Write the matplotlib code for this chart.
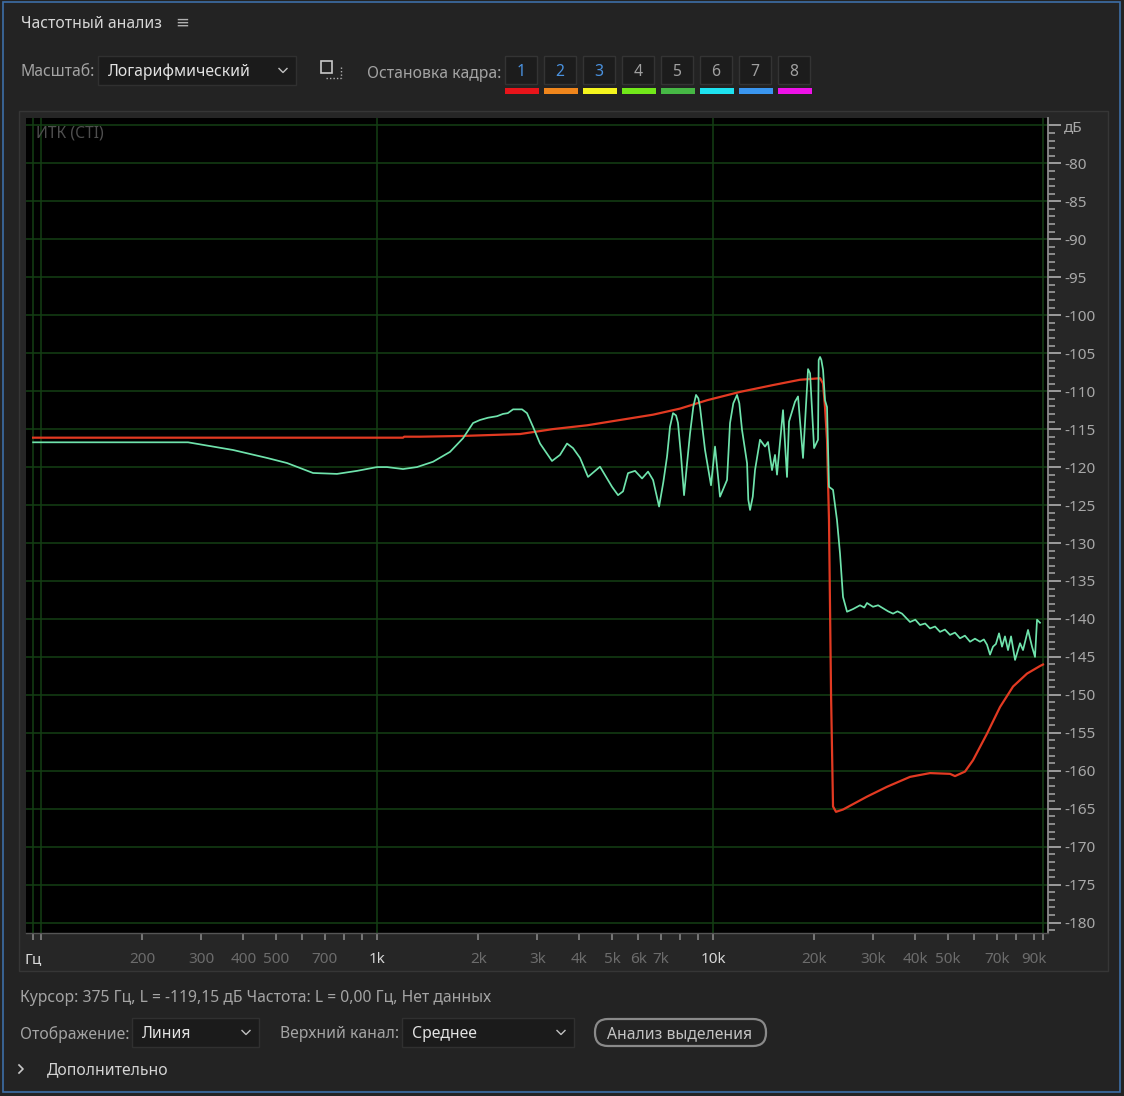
import matplotlib.pyplot as plt
from matplotlib.patches import Rectangle, FancyBboxPatch
from matplotlib.ticker import FixedLocator

plt.rcParams['font.family'] = ['Noto Sans', 'DejaVu Sans']

# Зелёная кривая (текущий спектр): частота, Гц / уровень, дБ
green_freq = [94.7, 273.8, 372.7, 470.7, 539.8, 645, 760, 872, 1000, 1071, 1195, 1315,
              1468, 1649, 1803, 1931, 2025, 2140, 2276, 2371, 2450, 2540, 2701, 2795,
              2913, 3056, 3317, 3504, 3677, 3831, 4020, 4246, 4609, 5005, 5216, 5397,
              5585, 5860, 6149, 6407, 6631, 6910, 7113, 7298, 7447, 7603, 7762, 7867,
              8034, 8199, 8352, 8541, 8738, 8901, 9043, 9148, 9467, 9863, 10139, 10491,
              11008, 11236, 11492, 11788, 11975, 12199, 12628, 12735, 12888, 13131, 13335,
              13800, 14282, 14578, 14983, 15293, 15505, 16156, 16604, 16835, 17539,
              17906, 18530, 19180, 19447, 19988, 20535, 20630, 20825, 21010, 21256, 21544,
              21842, 22141, 22760, 23389, 23878, 24373, 25052, 26105, 27384, 28200, 28729,
              29936, 31000, 32063, 33200, 34343, 35400, 36517, 38575, 40000, 41315,
              42800, 44239, 45800, 47383, 49000, 50754, 52500, 54340, 56200, 58210,
              60200, 62330, 64000, 65397, 66750, 68130, 69500, 71000, 72470, 73960,
              75510, 77100, 79240, 81990, 83690, 86600, 89010, 90860, 92120, 94020]
green_db = [-116.74, -116.74, -117.75, -118.8, -119.47, -120.78, -120.9, -120.5, -120.0,
            -120.0, -120.26, -120.0, -119.3, -118.0, -116.2, -114.2, -113.8, -113.5,
            -113.3, -113.0, -112.9, -112.4, -112.4, -112.9, -114.7, -116.9, -119.2,
            -118.4, -116.9, -117.5, -118.8, -121.3, -119.95, -122.6, -123.7, -123.2,
            -120.8, -120.5, -121.5, -120.6, -121.7, -125.2, -122.0, -118.6, -114.7,
            -112.9, -113.2, -114.2, -118.6, -123.7, -119.95, -115.6, -112.05, -110.5,
            -110.95, -112.1, -117.75, -122.4, -117.3, -123.9, -121.7, -114.2, -111.6,
            -110.5, -111.6, -115.1, -119.5, -124.3, -125.65, -123.9, -120.4, -116.4,
            -117.3, -116.7, -120.4, -118.4, -121.0, -112.5, -121.3, -114.0, -111.4,
            -110.7, -118.8, -107.1, -107.65, -117.5, -116.4, -105.9, -105.5, -105.9,
            -107.2, -111.2, -112.1, -122.6, -123.0, -127.0, -131.4, -137.1, -139.05,
            -138.7, -138.2, -138.5, -137.9, -138.4, -138.2, -138.6, -139.0, -139.3,
            -139.0, -139.3, -140.4, -140.1, -140.8, -140.6, -141.25, -141.0, -141.7,
            -141.4, -142.1, -141.8, -142.55, -142.2, -143.0, -142.6, -143.0, -142.7,
            -143.4, -144.7, -143.65, -143.3, -141.9, -143.65, -142.3, -144.1, -142.3,
            -145.4, -143.2, -144.1, -141.45, -143.65, -145.0, -140.1, -140.5]

# Красная кривая (кадр 1)
red_freq = [94.7, 1195, 1205, 1343, 1803, 2665, 3340, 4217, 5287, 6631, 7977, 9596,
            12033, 15088, 18155, 20825, 21256, 21544, 21842, 22141, 22454, 22760, 23232,
            24373, 28729, 32960, 38575, 44239, 50754, 52510, 56230, 59420, 65397, 71486,
            78170, 86000, 94020, 95960]
red_db = [-116.13, -116.13, -116.0, -116.0, -115.9, -115.65, -115.0, -114.5, -113.8,
          -113.1, -112.3, -111.2, -110.1, -109.2, -108.5, -108.3, -109.0, -112.1, -116.4,
          -127.0, -150.0, -164.7, -165.4, -165.1, -163.4, -162.1, -160.8, -160.3, -160.4,
          -160.7, -160.1, -158.6, -155.1, -151.6, -148.9, -147.2, -146.2, -146.0]

db_ticks = list(range(-75, -181, -5))
db_labels = ['дБ'] + [str(v) for v in db_ticks[1:]]
hz_grid = [94.7, 100, 1000, 10000, 95960]
hz_ticks = [94.7, 100, 200, 300, 400, 500, 600, 700, 800, 900,
            1000, 2000, 3000, 4000, 5000, 6000, 7000, 8000, 9000,
            10000, 20000, 30000, 40000, 50000, 60000, 70000, 80000, 90000, 95960]
hz_labels = ['Гц', '', '200', '300', '400', '500', '', '700', '', '',
             '1k', '2k', '3k', '4k', '5k', '6k', '7k', '', '',
             '10k', '20k', '30k', '40k', '50k', '', '70k', '', '90k', '']
hz_bright = ['Гц', '1k', '10k']

frame_labels = ['1', '2', '3', '4', '5', '6', '7', '8']
frame_colors = ['#e8141a', '#f0861c', '#f5f51e', '#72e81a', '#46b845', '#1ee2f0', '#3a96f0', '#ee12e8']
frame_active = [True, True, True, False, False, False, False, False]

W, H = 1124, 1096
FS = 11.3
fig = plt.figure(figsize=(W / 100, H / 100), dpi=100, facecolor='#232323')

# интерфейс в пиксельных координатах
ui = fig.add_axes([0, 0, 1, 1], zorder=0)
ui.set_xlim(0, W)
ui.set_ylim(H, 0)
ui.axis('off')

ui.add_patch(Rectangle((3, 2), 1117, 1090, fill=False, ec='#3d6ea6', lw=1.2))

ui.text(21, 23.5, 'Частотный анализ', color='#d6d6d6', fontsize=FS, va='center')
ui.text(182, 24, '≡', color='#b0b0b0', fontsize=12, va='center', ha='center')


def dropdown(x0, x1, text, y0=56, y1=85):
    ui.add_patch(Rectangle((x0, y0), x1 - x0, y1 - y0, fc='#1b1b1b', ec='#303030', lw=1))
    yc = (y0 + y1) / 2
    ui.text(x0 + 10, yc + 1.5, text, color='#e2e2e2', fontsize=FS, va='center',
            fontweight='semibold')
    cx = x1 - 13
    ui.plot([cx - 4, cx, cx + 4], [yc - 2, yc + 2, yc - 2], color='#c0c0c0', lw=1)


ui.text(20, 72, 'Масштаб:', color='#a4a4a4', fontsize=FS, va='center')
dropdown(98, 296, 'Логарифмический')

# иконка рядом с масштабом
ui.add_patch(Rectangle((321, 61), 11, 12, fill=False, ec='#c8c8c8', lw=1.2))
ui.plot([326, 341], [78, 78], color='#b0b0b0', lw=1, ls=(0, (1, 1.5)))
ui.plot([341, 341], [67, 78], color='#b0b0b0', lw=1, ls=(0, (1, 1.5)))

ui.text(367, 73.5, 'Остановка кадра:', color='#a4a4a4', fontsize=FS, va='center')
for i, (lab, col, act) in enumerate(zip(frame_labels, frame_colors, frame_active)):
    x0 = 505 + i * 39
    ui.add_patch(Rectangle((x0, 56), 32, 28, fc='#1c1c1c', ec='#343434', lw=1))
    ui.text(x0 + 16, 71.5, lab, color='#4a92e0' if act else '#a0a0a0', fontsize=FS,
            ha='center', va='center')
    ui.add_patch(Rectangle((x0, 88), 34, 5.5, fc=col, ec='none'))

# рамка вокруг графика
ui.add_patch(Rectangle((19, 111), 1089, 860, fc='#262626', ec='#363636', lw=1))

ui.text(20, 998.5, 'Курсор: 375 Гц, L = -119,15 дБ Частота: L = 0,00 Гц, Нет данных',
        color='#a4a4a4', fontsize=FS, va='center')
ui.text(20, 1034.5, 'Отображение:', color='#a4a4a4', fontsize=FS, va='center')
dropdown(132, 259, 'Линия', 1018, 1047)
ui.text(280, 1034.5, 'Верхний канал:', color='#a4a4a4', fontsize=FS, va='center')
dropdown(402, 574, 'Среднее', 1018, 1047)
ui.add_patch(FancyBboxPatch((595, 1019), 171, 27, boxstyle='round,pad=0,rounding_size=13',
                            fc='none', ec='#8a8a8a', lw=1.6))
ui.text(680, 1034.5, 'Анализ выделения', color='#c4c4c4', fontsize=FS, va='center', ha='center')
ui.plot([19, 23, 19], [1065, 1069, 1073], color='#c8c8c8', lw=1.2)
ui.text(47, 1070.5, 'Дополнительно', color='#d4d4d4', fontsize=FS, va='center')

# основной график
ax = fig.add_axes([26 / W, 1 - 933 / H, (1048 - 26) / W, (933 - 118) / H], zorder=1)
ax.set_facecolor('black')
ax.set_xscale('log')
ax.set_xlim(90.2, 99315)
ax.set_ylim(-181.36, -74.03)

grid_col = '#143f14'
for v in db_ticks:
    ax.axhline(v, color=grid_col, lw=1.1, zorder=1)
for f in hz_grid:
    ax.axvline(f, color=grid_col, lw=1.1, zorder=1)

ax.plot(red_freq, red_db, color='#e23a22', lw=1.6, zorder=3)
ax.plot(green_freq, green_db, color='#6fe3ac', lw=1.25, zorder=4)

ax.text(0.0098, 0.981, 'ИТК (CTI)', transform=ax.transAxes, color='#4e4e4e',
        fontsize=FS, va='center', ha='left')

for s in ['top', 'left']:
    ax.spines[s].set_visible(False)
ax.spines['right'].set_color('#8c8c8c')
ax.spines['right'].set_linewidth(1.3)
ax.spines['bottom'].set_color('#555555')
ax.spines['bottom'].set_linewidth(1.0)

ax.yaxis.tick_right()
ax.set_yticks(db_ticks)
ax.set_yticklabels(db_labels)
ax.yaxis.set_minor_locator(FixedLocator(range(-74, -182, -1)))
ax.tick_params(axis='y', which='major', length=9, width=1.4, color='#9c9c9c',
               labelcolor='#a8a8a8', labelsize=11, pad=2.5)
ax.tick_params(axis='y', which='minor', length=5, width=1.4, color='#8c8c8c')

ax.set_xticks(hz_ticks)
ax.set_xticklabels(hz_labels)
ax.xaxis.set_minor_locator(FixedLocator([]))
ax.tick_params(axis='x', which='major', length=5, width=1.1, color='#8c8c8c',
               labelcolor='#6c6c6c', labelsize=11, pad=8.5)
for t in ax.get_xticklabels():
    if t.get_text() in hz_bright:
        t.set_color('#d8d8d8')
        t.set_fontweight('semibold')

fig.savefig('out.png', dpi=100, facecolor=fig.get_facecolor())
